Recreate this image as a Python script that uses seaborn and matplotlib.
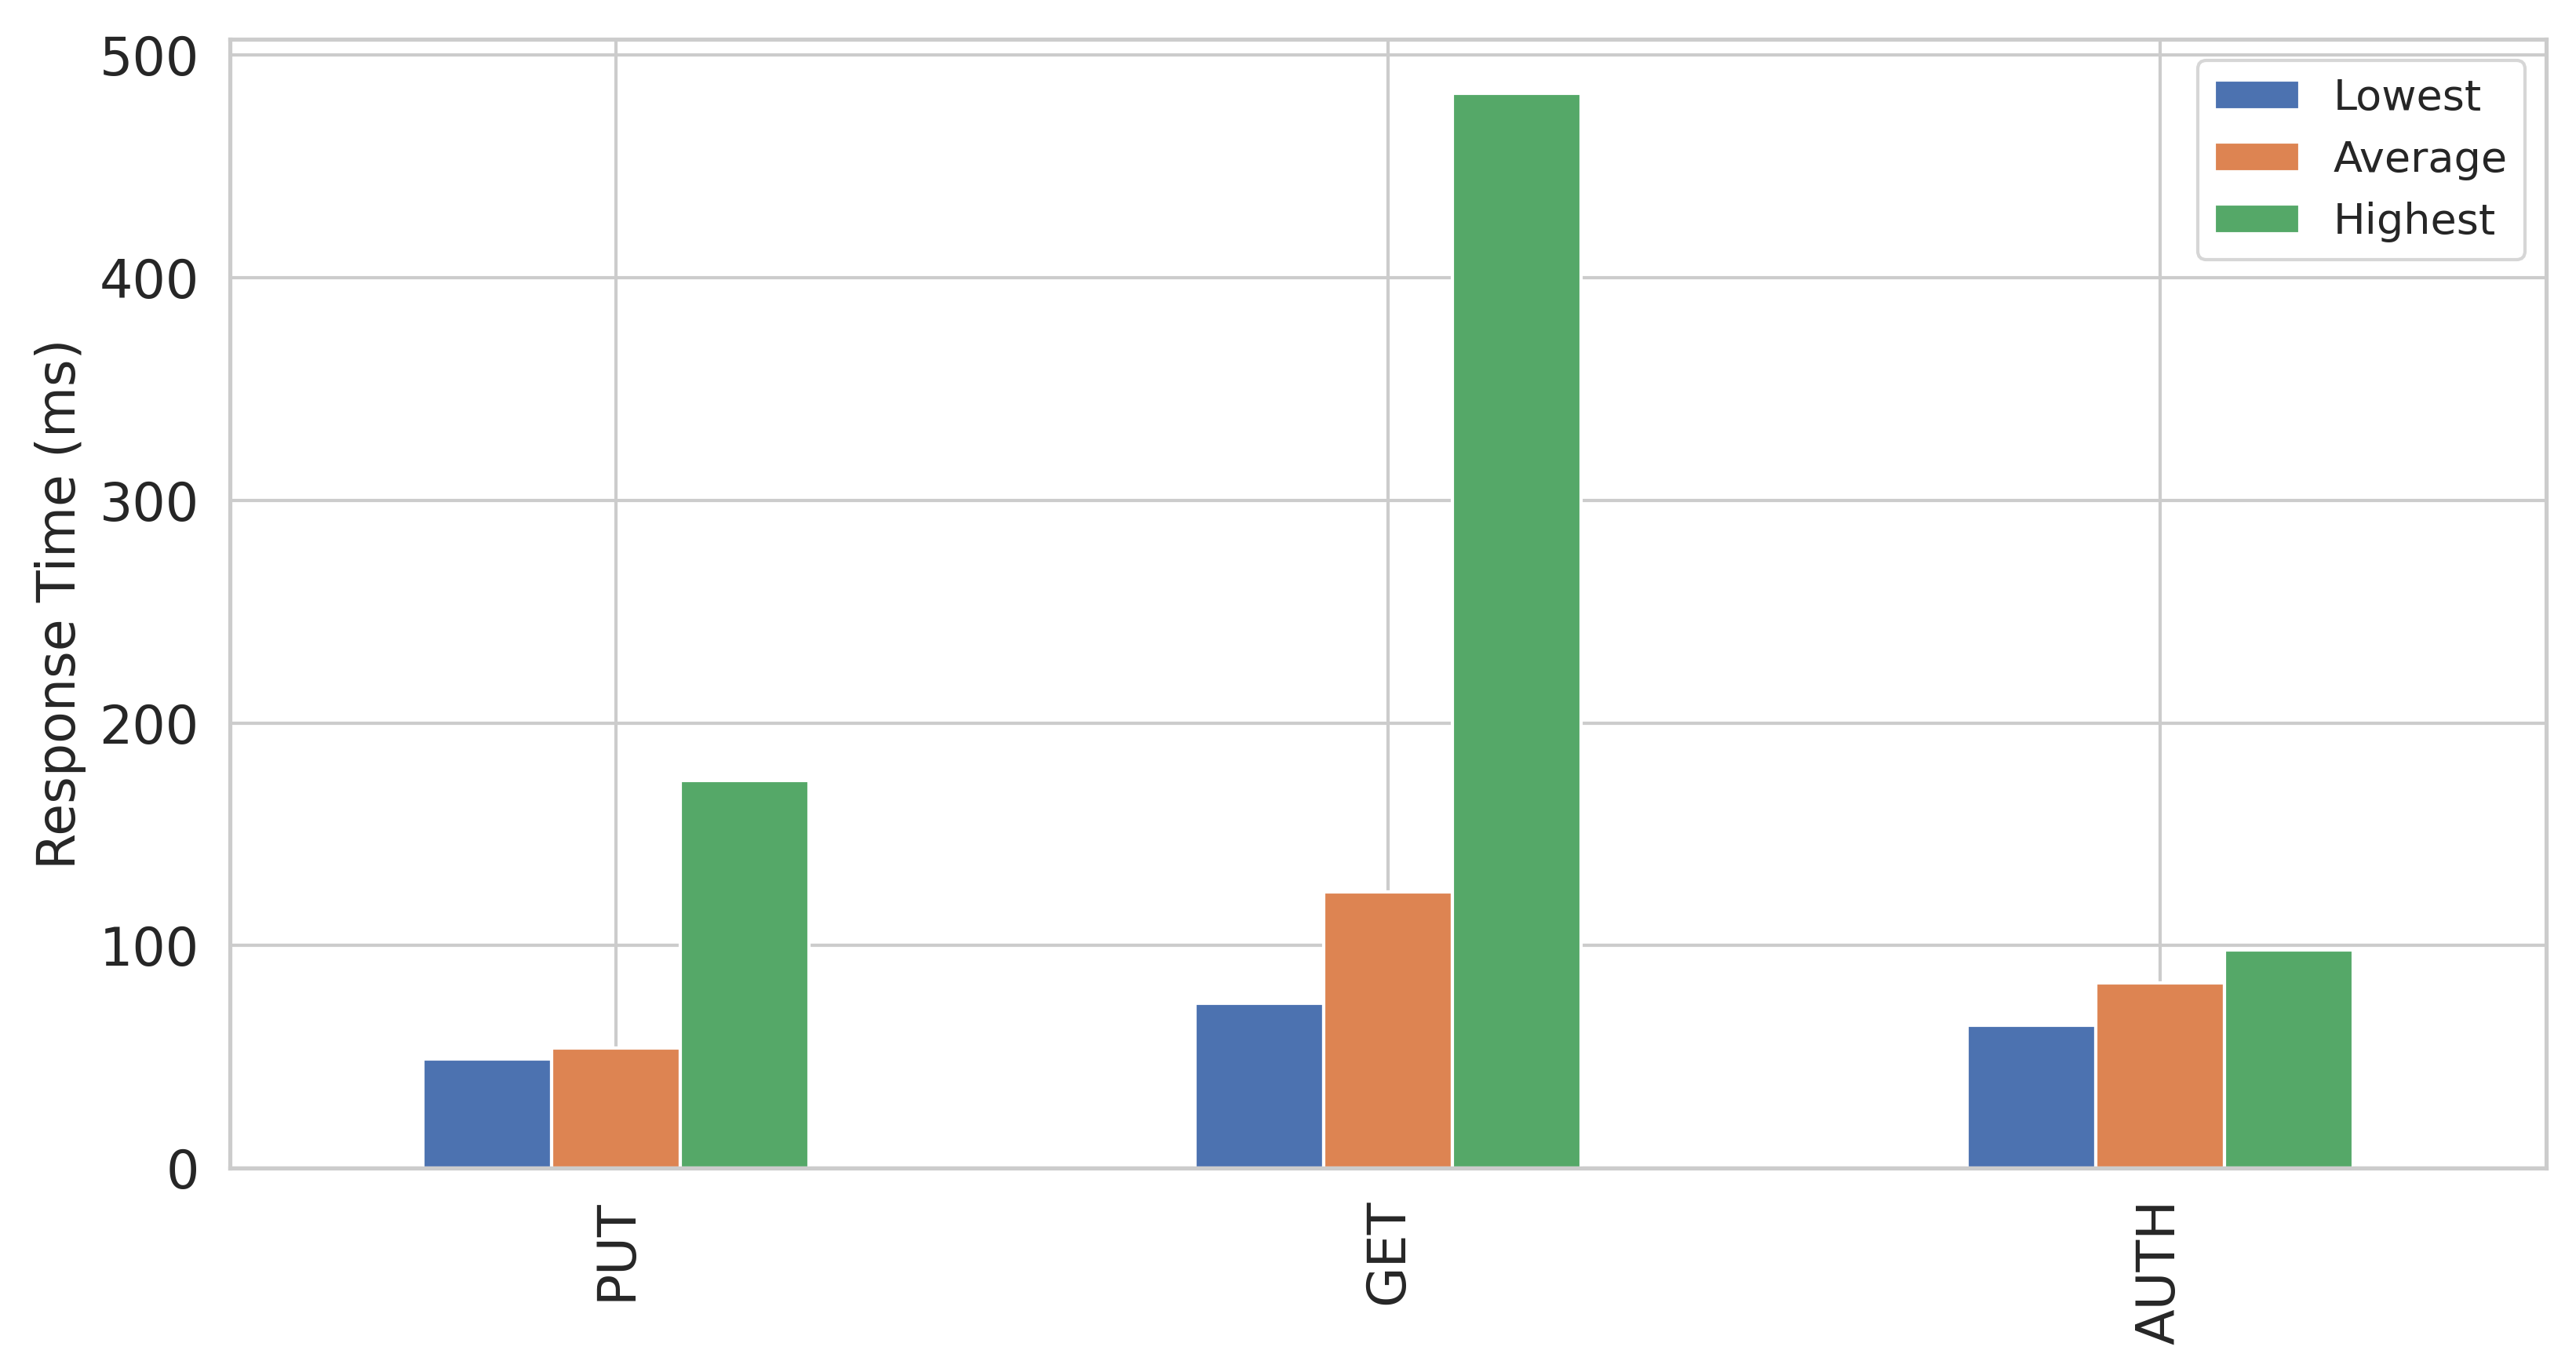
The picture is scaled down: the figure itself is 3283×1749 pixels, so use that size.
import pandas as pd
import matplotlib
matplotlib.use("Agg")
import matplotlib.pyplot as plt
import seaborn as sns

# Response times (ms)
methods = ["PUT", "GET", "AUTH"]
stats = ["Lowest", "Average", "Highest"]
lowest = [49, 74, 64]
average = [54, 124, 83]
highest = [174, 483, 98]

sns.set_theme(style="whitegrid", palette="deep")
plt.rcParams["font.family"] = ["DejaVu Sans"]

# Long-form table for seaborn
df = pd.DataFrame({"method": methods, "Lowest": lowest, "Average": average, "Highest": highest})
long_df = df.melt(id_vars="method", value_vars=stats, var_name="stat", value_name="ms")

fig, ax = plt.subplots(figsize=(3283 / 300, 1749 / 300), dpi=300)
fig.subplots_adjust(left=0.0893, right=0.9884, top=0.9714, bottom=0.1487)

sns.barplot(data=long_df, x="method", y="ms", hue="stat", order=methods, hue_order=stats,
            width=0.5, saturation=1, errorbar=None, edgecolor="white", linewidth=1, ax=ax)

# seaborn hides the grid on the categorical axis; the reference keeps it
ax.xaxis.grid(True)
ax.set_axisbelow(True)
ax.set_xlim(-0.5, 2.5)
ax.set_ylim(0, 507.2)
ax.set_yticks([0, 100, 200, 300, 400, 500])

ax.set_xlabel("")
ax.set_ylabel("Response Time (ms)", fontsize=16)
ax.tick_params(axis="both", labelsize=16)
plt.setp(ax.get_xticklabels(), rotation=90)

handles, labels = ax.get_legend_handles_labels()
ax.legend(handles, labels, loc="upper right", fontsize=13)

fig.savefig("out.png", dpi=300)
plt.close(fig)
